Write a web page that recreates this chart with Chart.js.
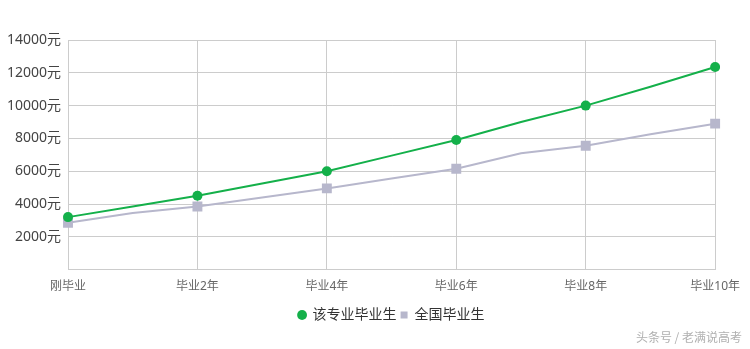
<!DOCTYPE html>
<html>
<head>
<meta charset="utf-8">
<script src="https://cdn.jsdelivr.net/npm/chart.js@4/dist/chart.umd.min.js"></script>
<style>
    html, body { margin: 0; padding: 0; background: #fff; }
    #wrap { position: relative; width: 750px; height: 349px; }
    #mark { position: absolute; right: 8px; bottom: 4px; font: 12px "Noto Sans CJK SC", sans-serif; color: #b0b0b0; }
</style>
</head>
<body>
<div id="wrap">
    <canvas id="salaryChart" width="750" height="349"></canvas>
    <div id="mark">头条号 / 老满说高考</div>
</div>
<script>
// data
var years = ['刚毕业', '毕业1年', '毕业2年', '毕业3年', '毕业4年', '毕业5年', '毕业6年', '毕业7年', '毕业8年', '毕业9年', '毕业10年'];
var majorSalary = [3200, 3850, 4500, 5250, 6000, 6950, 7900, 9000, 10000, 11150, 12350];
var nationalSalary = [2850, 3450, 3850, 4400, 4950, 5550, 6150, 7100, 7550, 8250, 8900];
var yTicks = [2000, 4000, 6000, 8000, 10000, 12000, 14000];

var font = '"Noto Sans", "Noto Sans CJK SC", sans-serif';

// markers only on the labelled years
function markerSize(r) {
    return function (ctx) { return ctx.dataIndex % 2 === 0 ? r : 0; };
}

new Chart(document.getElementById('salaryChart'), {
    type: 'line',
    data: {
        labels: years,
        datasets: [{
            label: '该专业毕业生',
            data: majorSalary,
            borderColor: '#14b04a',
            backgroundColor: '#14b04a',
            borderWidth: 2,
            pointStyle: 'circle',
            pointBorderWidth: 0,
            pointRadius: markerSize(5),
            pointHoverRadius: markerSize(5),
            tension: 0
        }, {
            label: '全国毕业生',
            data: nationalSalary,
            borderColor: '#b7b7cc',
            backgroundColor: '#b7b7cc',
            borderWidth: 2,
            pointStyle: 'rect',
            pointBorderWidth: 0,
            pointRadius: markerSize(7),
            pointHoverRadius: markerSize(7),
            tension: 0
        }]
    },
    options: {
        responsive: false,
        animation: false,
        layout: { padding: { left: 0, right: 14, top: 40, bottom: 17 } },
        plugins: {
            tooltip: { enabled: false },
            legend: {
                position: 'bottom',
                fullSize: false,
                labels: {
                    usePointStyle: true,
                    boxWidth: 7,
                    boxHeight: 7,
                    padding: 4,
                    color: '#333',
                    font: { family: font, size: 14 }
                }
            }
        },
        scales: {
            x: {
                grid: {
                    color: function (ctx) { return ctx.index % 2 === 0 ? '#cccccc' : 'rgba(0,0,0,0)'; },
                    drawTicks: false
                },
                border: { color: '#cccccc' },
                ticks: {
                    autoSkip: false,
                    maxRotation: 0,
                    padding: 10,
                    color: '#666',
                    font: { family: font, size: 12 },
                    callback: function (v, i) { return i % 2 === 0 ? years[i] : ''; }
                }
            },
            y: {
                min: 0,
                max: 14000,
                afterBuildTicks: function (scale) {
                    scale.ticks = [{ value: 0 }].concat(yTicks.map(function (v) { return { value: v }; }));
                },
                afterFit: function (scale) { scale.width = 68; },
                grid: { color: '#cccccc', drawTicks: false },
                border: { color: '#cccccc' },
                ticks: {
                    padding: 7,
                    color: '#444',
                    font: { family: font, size: 14 },
                    callback: function (v) { return v === 0 ? '' : v + '元'; }
                }
            }
        }
    }
});
</script>
</body>
</html>
